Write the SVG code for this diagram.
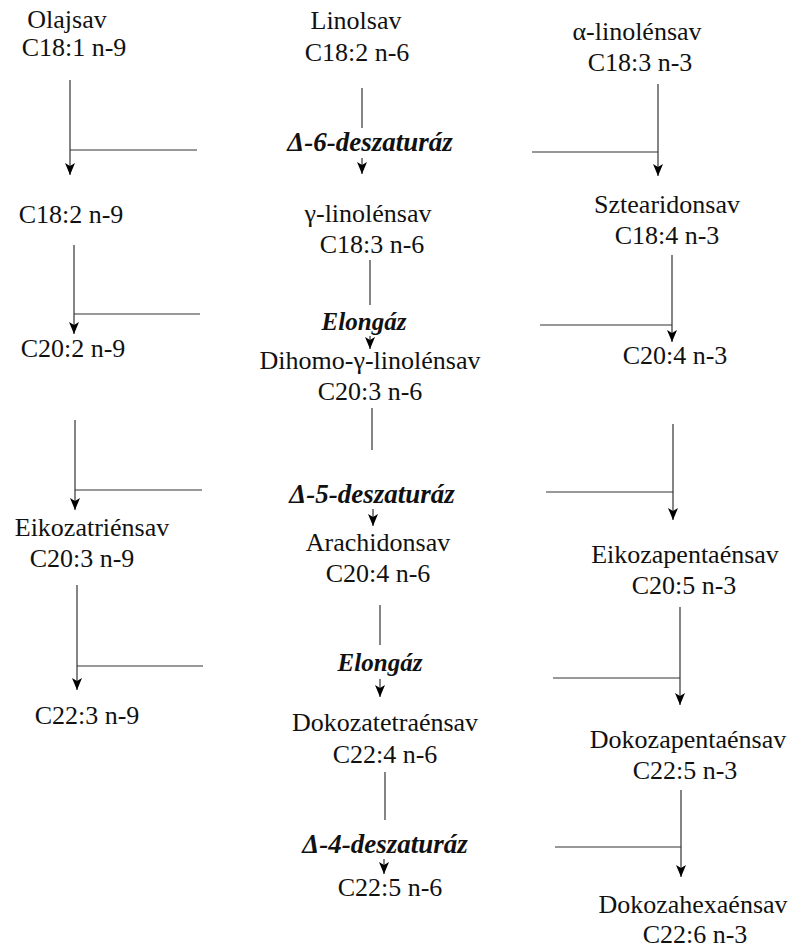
<svg xmlns="http://www.w3.org/2000/svg" width="801" height="950" viewBox="0 0 801 950">
<defs>
<marker id="ah" viewBox="0 0 12 10" refX="12" refY="5" markerWidth="14" markerHeight="10" orient="auto" markerUnits="userSpaceOnUse">
<path d="M0,0 L12,5 L0,10 L3,5 z" fill="#000"/>
</marker>
</defs>
<style>
text{font-family:"Liberation Serif","DejaVu Serif","Times New Roman",serif;font-size:26px;fill:#111;text-anchor:middle}
.enz{font-weight:bold;font-style:italic;font-size:27px}
.el{font-size:25px}
.ln{stroke:#333;stroke-width:1.2;fill:none}
.ar{stroke:#333;stroke-width:1.2;fill:none;marker-end:url(#ah)}
</style>
<rect width="801" height="950" fill="#fff"/>

<g id="n9-1"><text x="67" y="28">Olajsav</text><text x="74" y="56">C18:1 n-9</text></g>
<g id="n9-2"><text x="71" y="223">C18:2 n-9</text></g>
<g id="n9-3"><text x="73" y="357">C20:2 n-9</text></g>
<g id="n9-4"><text x="92" y="536">Eikozatriénsav</text><text x="82" y="567">C20:3 n-9</text></g>
<g id="n9-5"><text x="87" y="724">C22:3 n-9</text></g>

<g id="n6-1"><text x="356" y="29">Linolsav</text><text x="357" y="61">C18:2 n-6</text></g>
<g id="e1"><text class="enz" x="370" y="151">Δ-6-deszaturáz</text></g>
<g id="n6-2"><text x="368" y="222">γ-linolénsav</text><text x="372" y="253">C18:3 n-6</text></g>
<g id="e2"><text class="enz el" x="364" y="330">Elongáz</text></g>
<g id="n6-3"><text x="370" y="369">Dihomo-γ-linolénsav</text><text x="370" y="400">C20:3 n-6</text></g>
<g id="e3"><text class="enz" x="372" y="503">Δ-5-deszaturáz</text></g>
<g id="n6-4"><text x="378" y="551">Arachidonsav</text><text x="378" y="582">C20:4 n-6</text></g>
<g id="e4"><text class="enz el" x="380" y="671">Elongáz</text></g>
<g id="n6-5"><text x="385" y="731">Dokozatetraénsav</text><text x="385" y="763">C22:4 n-6</text></g>
<g id="e5"><text class="enz" x="385" y="853">Δ-4-deszaturáz</text></g>
<g id="n6-6"><text x="390" y="896">C22:5 n-6</text></g>

<g id="n3-1"><text x="637" y="40">α-linolénsav</text><text x="640" y="71">C18:3 n-3</text></g>
<g id="n3-2"><text x="667" y="213">Sztearidonsav</text><text x="667" y="244">C18:4 n-3</text></g>
<g id="n3-3"><text x="675" y="364">C20:4 n-3</text></g>
<g id="n3-4"><text x="685" y="563">Eikozapentaénsav</text><text x="684" y="594">C20:5 n-3</text></g>
<g id="n3-5"><text x="688" y="748">Dokozapentaénsav</text><text x="685" y="779">C22:5 n-3</text></g>
<g id="n3-6"><text x="693" y="913">Dokozahexaénsav</text><text x="695" y="943">C22:6 n-3</text></g>

<g id="connectors">
<path class="ar" d="M70,80 V175"/><path class="ln" d="M70,150 H197"/>
<path class="ar" d="M74,245 V334"/><path class="ln" d="M74,314 H200"/>
<path class="ar" d="M75,420 V510"/><path class="ln" d="M75,490 H202"/>
<path class="ar" d="M77,585 V690"/><path class="ln" d="M77,666 H203"/>

<path class="ln" d="M362,88 V128"/><path class="ar" d="M362,158 V174"/>
<path class="ln" d="M370,260 V305"/><path class="ar" d="M370,336 V349"/>
<path class="ln" d="M372,408 V450"/><path class="ar" d="M373,509 V526"/>
<path class="ln" d="M380,605 V645"/><path class="ar" d="M380,679 V697"/>
<path class="ln" d="M385,772 V820"/><path class="ar" d="M384,859 V874"/>

<path class="ar" d="M658,84 V176"/><path class="ln" d="M532,152 H658"/>
<path class="ar" d="M672,255 V342"/><path class="ln" d="M540,325 H672"/>
<path class="ar" d="M673,424 V520"/><path class="ln" d="M546,492 H673"/>
<path class="ar" d="M680,607 V705"/><path class="ln" d="M553,678 H680"/>
<path class="ar" d="M681,790 V877"/><path class="ln" d="M555,847 H681"/>
</g>
</svg>
